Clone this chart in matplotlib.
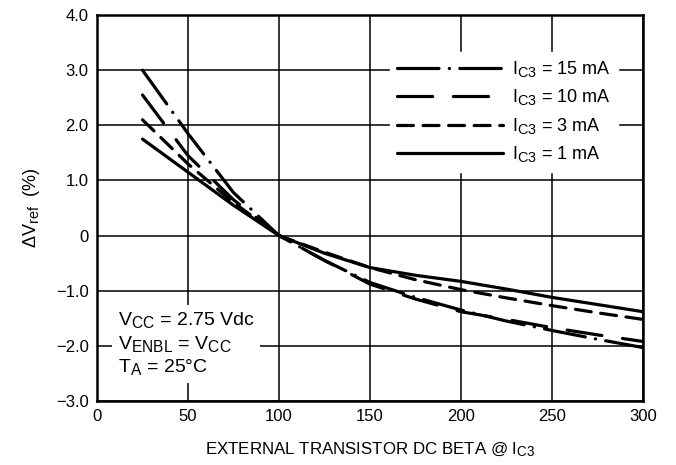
import matplotlib
matplotlib.use("Agg")
import matplotlib.pyplot as plt
import matplotlib._mathtext as mt

# bigger subscripts, closer to the data sheet lettering
mt.SHRINK_FACTOR = 0.8

plt.rcParams['font.family'] = ['Liberation Sans', 'DejaVu Sans']
plt.rcParams['mathtext.fontset'] = 'custom'
plt.rcParams['mathtext.rm'] = 'Liberation Sans'
plt.rcParams['mathtext.it'] = 'Liberation Sans'
plt.rcParams['axes.unicode_minus'] = True

# data
beta = [25, 50, 75, 100, 125, 150, 175, 200, 225, 250, 275, 300]
dv_15ma = [3.0, 1.85, 0.78, 0, -0.45, -0.85, -1.12, -1.35, -1.55, -1.72, -1.88, -2.03]
dv_10ma = [2.55, 1.45, 0.65, 0, -0.45, -0.88, -1.15, -1.38, -1.52, -1.67, -1.80, -1.92]
dv_3ma = [2.1, 1.3, 0.6, 0, -0.30, -0.58, -0.80, -0.98, -1.13, -1.27, -1.40, -1.52]
dv_1ma = [1.75, 1.15, 0.55, 0, -0.32, -0.58, -0.72, -0.83, -0.97, -1.12, -1.25, -1.38]

labels = [r'I$_{\mathrm{C3}}$ = 15 mA', r'I$_{\mathrm{C3}}$ = 10 mA',
          r'I$_{\mathrm{C3}}$ = 3 mA', r'I$_{\mathrm{C3}}$ = 1 mA']
xticks = [0, 50, 100, 150, 200, 250, 300]
yticks = [-3, -2, -1, 0, 1, 2, 3, 4]
yticklabels = ['−3.0', '−2.0', '−1.0', '0', '1.0', '2.0', '3.0', '4.0']

fig = plt.figure(figsize=(6.76, 4.65), dpi=100)
ax = fig.add_axes([0.1435, 0.1376, 0.8075, 0.8301])

styles = [(0, (13, 3.2, 0.1, 3.2)), (0, (11, 6.5)), (0, (5, 3)), '-']
series = [dv_15ma, dv_10ma, dv_3ma, dv_1ma]
for vals, ls, lab in zip(series, styles, labels):
    ax.plot(beta, vals, color='black', lw=2.3, linestyle=ls, label=lab,
            solid_capstyle='round', dash_capstyle='round', zorder=3)

ax.set_xlim(0, 300)
ax.set_ylim(-3, 4)
ax.set_xticks(xticks)
ax.set_yticks(yticks)
ax.set_yticklabels(yticklabels)
ax.grid(True, color='black', lw=1.1)
ax.tick_params(length=0, labelsize=12, pad=6)
for s in ax.spines.values():
    s.set_linewidth(1.8)

ax.set_xlabel(r'EXTERNAL TRANSISTOR DC BETA @ I$_{\mathrm{C3}}$', fontsize=12.2, labelpad=12)
ax.set_ylabel(r'$\Delta$V$_{\mathrm{ref}}$  (%)', fontsize=13, labelpad=10)

leg = ax.legend(loc='upper right', bbox_to_anchor=(0.955, 0.905), borderaxespad=0,
                frameon=True, fontsize=13, handlelength=5.9, handletextpad=0.5,
                labelspacing=0.47, borderpad=0.4, fancybox=False)
leg.get_frame().set_edgecolor('white')
leg.get_frame().set_facecolor('white')
leg.get_frame().set_alpha(1)
leg.set_zorder(5)

ax.text(0.038, 0.062,
        'V$_{\\mathrm{CC}}$ = 2.75 Vdc\nV$_{\\mathrm{ENBL}}$ = V$_{\\mathrm{CC}}$\nT$_{\\mathrm{A}}$ = 25°C',
        transform=ax.transAxes, fontsize=14, va='bottom', ha='left', linespacing=1.22,
        bbox=dict(facecolor='white', edgecolor='none', pad=4), zorder=5)

fig.savefig('out.png', dpi=100)
